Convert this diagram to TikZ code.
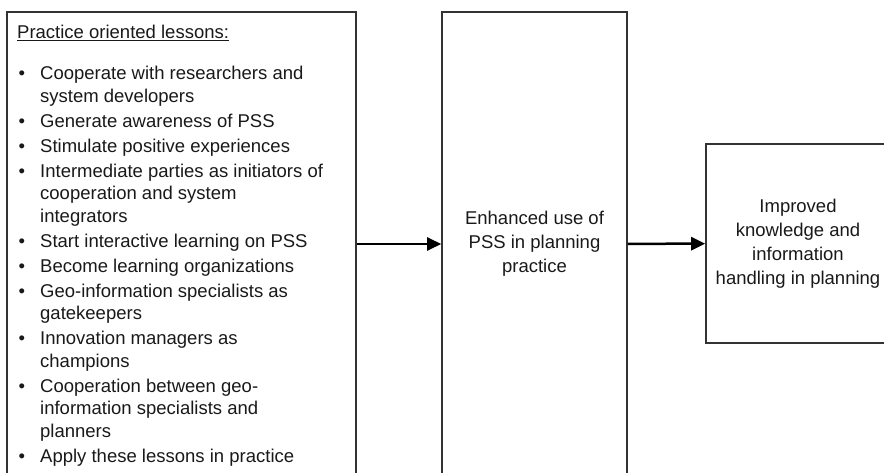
\documentclass[tikz,border=0pt]{standalone}
\usepackage{fontspec}
\setmainfont{Liberation Sans}
\usepackage{tikz}
\usetikzlibrary{arrows.meta,positioning}

\newcommand{\lessonbullet}{\makebox[23pt][l]{\hspace{1.5pt}\textbullet}}

\begin{document}
\begin{tikzpicture}[>={Triangle[length=14pt,width=13pt]}, x=1pt, y=-1pt]
    % Define style for the nodes
    \tikzstyle{panel} = [draw=black!80, line width=1.6pt, inner sep=0pt]
    \tikzstyle{box text} = [align=center, font=\fontsize{18.5}{24}\selectfont, text=black!90]

    \clip (0,0) rectangle (884,473);

    % Nodes
    \node[panel, minimum width=349pt, minimum height=464pt] (lessons) at (181.5,244) {};
    \node[panel, box text, minimum width=185pt, minimum height=464pt] (use) at (534.5,244) {Enhanced use of\\PSS in planning\\practice};
    \node[panel, box text, minimum width=184pt, minimum height=199pt] (knowledge) at (798,243.5) {Improved\\knowledge and\\information\\handling in planning};

    % Lessons list
    \node[anchor=north west, inner sep=0pt, font=\fontsize{18.5}{22.5}\selectfont, text=black!90] (lessonlist) at (17,23) {%
    \begin{tabular}{@{}l@{}l@{}}
    \multicolumn{2}{@{}l@{}}{\underline{Practice oriented lessons:}}\\[18.5pt]
    \lessonbullet & Cooperate with researchers and\\
     & system developers\\[2.5pt]
    \lessonbullet & Generate awareness of PSS\\[2.5pt]
    \lessonbullet & Stimulate positive experiences\\[2.5pt]
    \lessonbullet & Intermediate parties as initiators of\\
     & cooperation and system\\
     & integrators\\[2.5pt]
    \lessonbullet & Start interactive learning on PSS\\[2.5pt]
    \lessonbullet & Become learning organizations\\[2.5pt]
    \lessonbullet & Geo-information specialists as\\
     & gatekeepers\\[2.5pt]
    \lessonbullet & Innovation managers as\\
     & champions\\[2.5pt]
    \lessonbullet & Cooperation between geo-\\
     & information specialists and\\
     & planners\\[2.5pt]
    \lessonbullet & Apply these lessons in practice
    \end{tabular}};

    % Arrows
    \draw[->, line width=2.5pt] (lessons) -- (use);
    \draw[->, line width=2.5pt] (use) -- (knowledge);
\end{tikzpicture}
\end{document}
